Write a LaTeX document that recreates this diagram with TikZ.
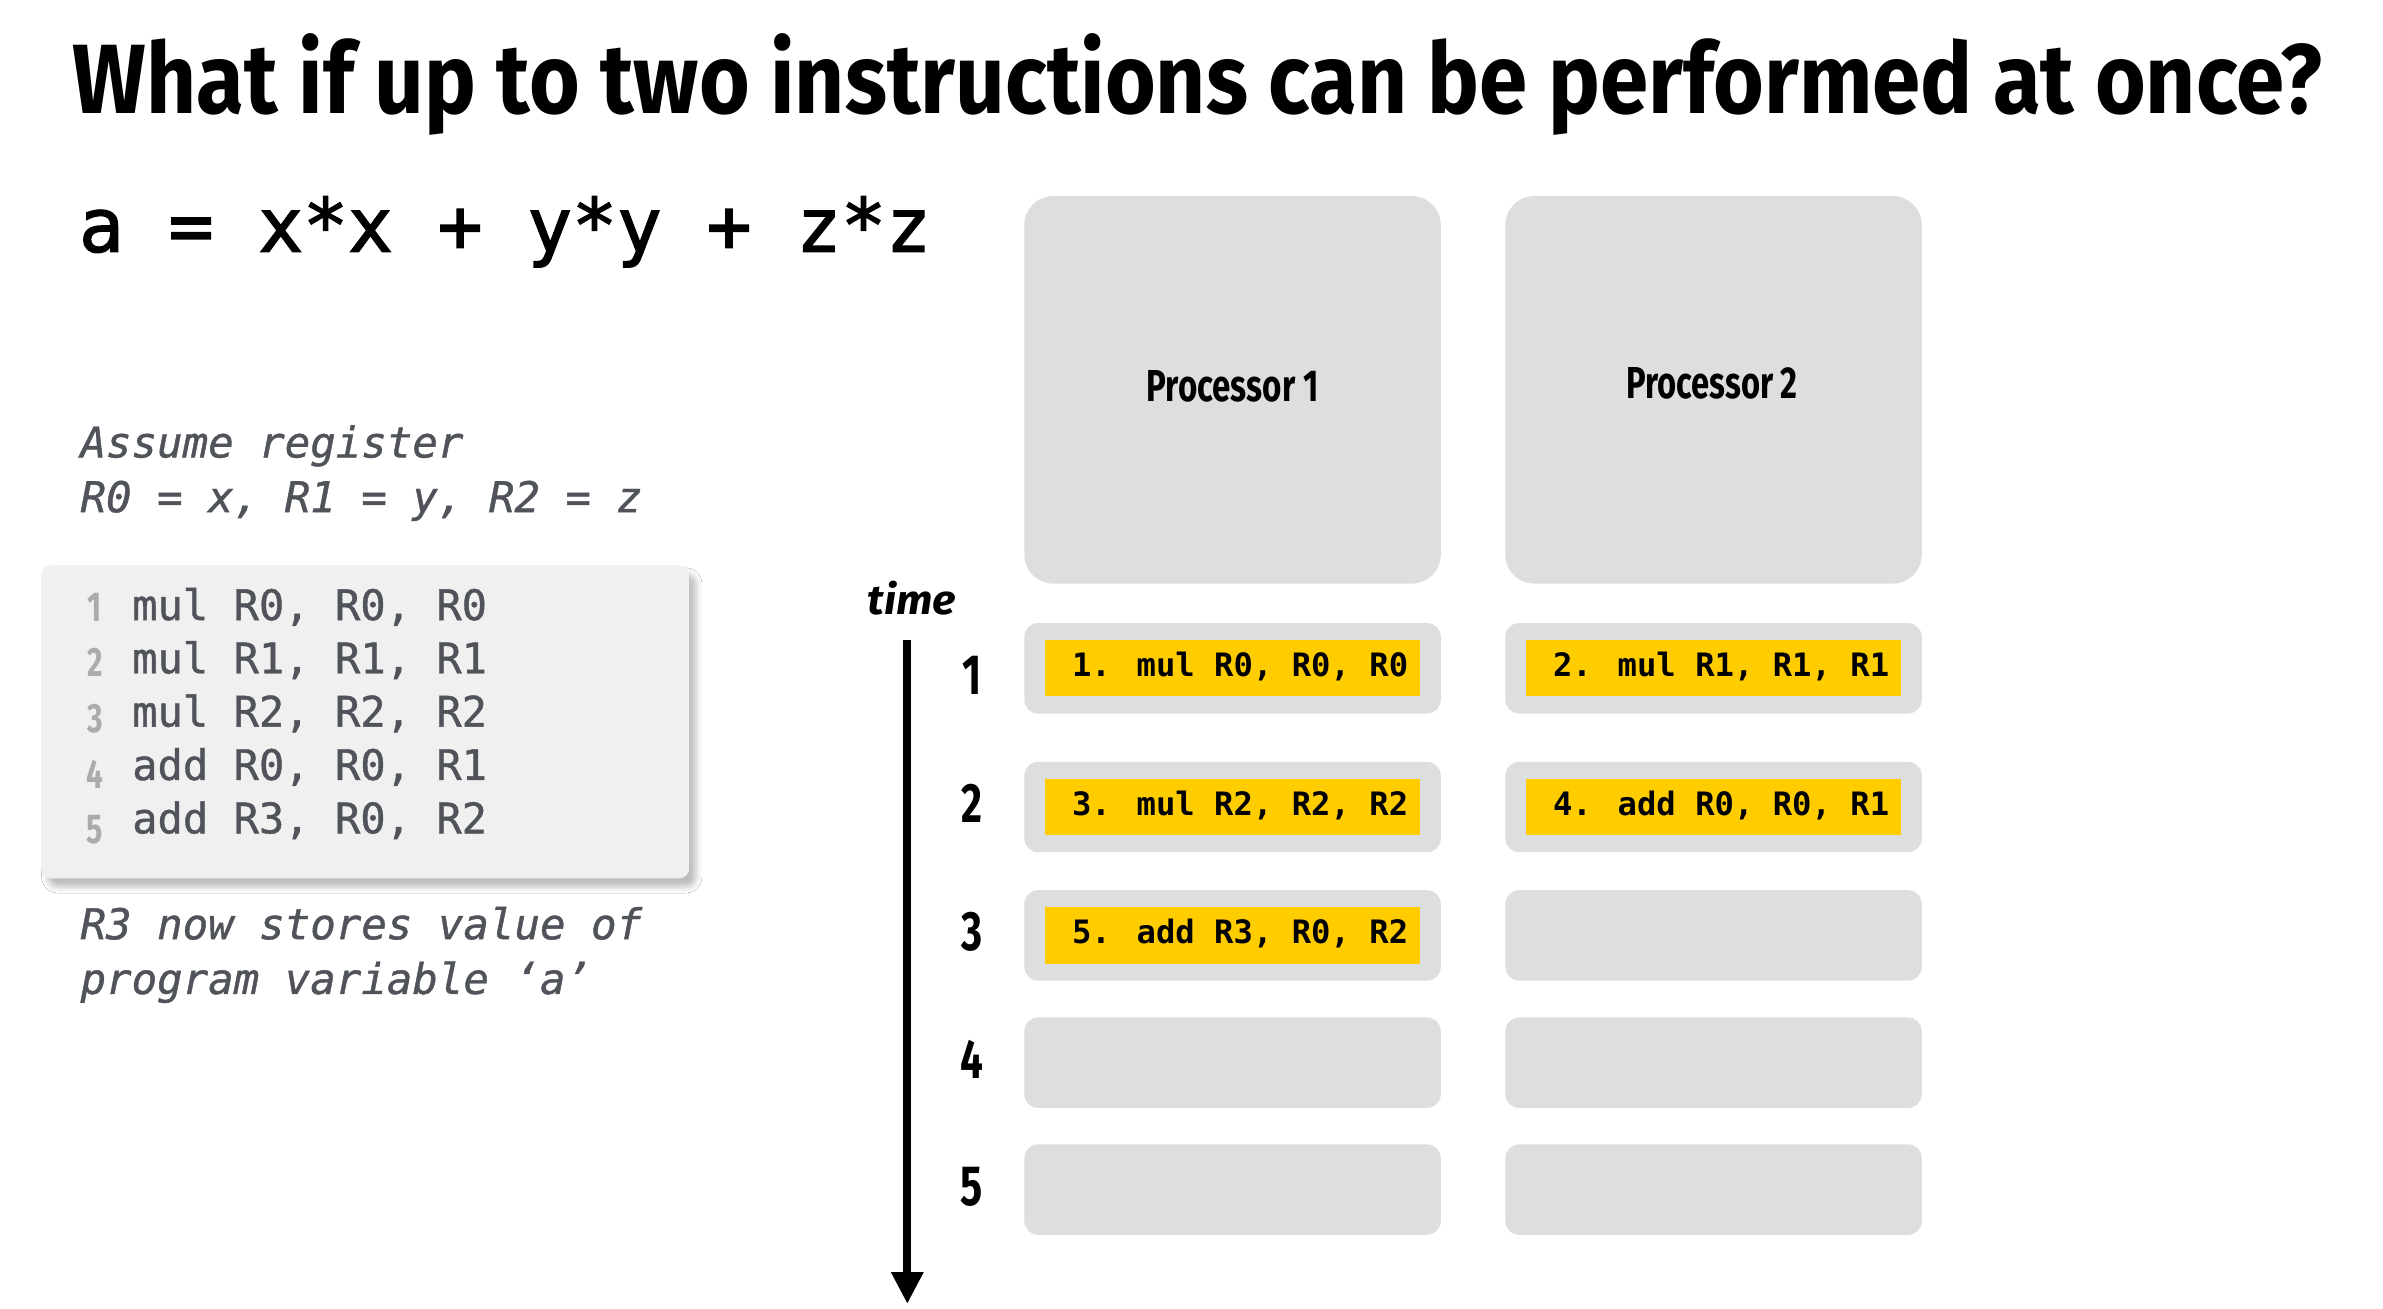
\documentclass[tikz,border=0pt]{standalone}
\usepackage{fontspec}
\usepackage{graphicx}
\usetikzlibrary{arrows.meta,shadows.blur}
\newfontfamily\cond[FakeStretch=0.73]{Fira Sans}
\newfontfamily\mono{DejaVu Sans Mono}
\newfontfamily\monoeq[FakeBold=2]{DejaVu Sans Mono}
\newfontfamily\monocode[FakeBold=1]{DejaVu Sans Mono}
\definecolor{boxgray}{HTML}{DDDEE0}
\definecolor{codebg}{HTML}{F0F0F0}
\definecolor{codefg}{HTML}{50545A}
\definecolor{lnum}{HTML}{A9ABAD}
\definecolor{instyellow}{HTML}{FFCC00}
\begin{document}
\begin{tikzpicture}[x=0.5pt,y=-0.5pt,
  txt/.style={inner sep=0pt, outer sep=0pt},
  procbox/.style={fill=boxgray, rounded corners=9.5pt, minimum width=137pt, minimum height=127.5pt, inner sep=0pt},
  rowbox/.style={fill=boxgray, rounded corners=4.5pt, minimum width=137pt, minimum height=29.75pt, inner sep=0pt},
  instbox/.style={fill=instyellow, minimum width=123.5pt, minimum height=18.5pt, inner sep=0pt},
  insttext/.style={txt, anchor=base, font=\mono\bfseries\fontsize{10.6}{12}\selectfont},
  codeline/.style={txt, anchor=base west, text=codefg, font=\monocode\fontsize{13.85}{16}\selectfont},
  note/.style={txt, anchor=base west, text=codefg, font=\monocode\itshape\fontsize{13.95}{16}\selectfont},
  linenum/.style={txt, anchor=base, text=lnum},
  stepnum/.style={txt, anchor=base},
  timearrow/.style={line width=2.75pt, -{Triangle[width=10pt,length=10.5pt]}}
]
\useasboundingbox (0,0) rectangle (1568,861);
\fill[white] (0,0) rectangle (1568,861);

% title
\node[txt, anchor=base west] (title) at (48,74.6)
  {\resizebox{740pt}{26.3pt}{\cond\bfseries What if up to two instructions can be performed at once?}};

% equation
\node[txt, anchor=base west, font=\monoeq\fontsize{24.5}{28}\selectfont] (eq) at (52,165.6) {a = x*x + y*y + z*z};

% notes
\node[note] (as1) at (53,301) {Assume register};
\node[note] (as2) at (53,337) {R0 = x, R1 = y, R2 = z};
\node[note] (r3a) at (53,618) {R3 now stores value of};
\node[note] (r3b) at (53,654) {program variable ‘a’};

% code box
\node[fill=codebg, rounded corners=3.3pt, minimum width=213.25pt, minimum height=103pt, inner sep=0pt,
  blur shadow={shadow xshift=2.2pt, shadow yshift=-2.8pt, shadow blur radius=2pt, shadow opacity=26}]
  (codebox) at (240.25,475) {};
\foreach \i/\yb/\yn/\t in {1/408/409/{mul R0, R0, R0},2/443/445.2/{mul R1, R1, R1},3/478.1/482.1/{mul R2, R2, R2},4/513.2/518.7/{add R0, R0, R1},5/548.3/554.8/{add R3, R0, R2}}{
  \node[linenum] (l\i) at (62.5,\yn) {\resizebox{!}{9.3pt}{\cond\bfseries \i}};
  \node[codeline] (c\i) at (87,\yb) {\t};
}

% processors
\node[procbox] (p1) at (811,256.5) {};
\node[procbox] (p2) at (1127.5,256.5) {};
\node[txt, anchor=base west] (p1l) at (754.5,264.3) {\resizebox{56.5pt}{10.2pt}{\cond\bfseries Processor 1}};
\node[txt, anchor=base west] (p2l) at (1070,262) {\resizebox{56.5pt}{10.2pt}{\cond\bfseries Processor 2}};

% rows
\foreach \r/\y in {1/439.75,2/531,3/615.5,4/699.25,5/782.75}{
  \node[rowbox] (ra\r) at (811,\y) {};
  \node[rowbox] (rb\r) at (1127.5,\y) {};
}

% instructions
\node[instbox] (ya1) at (ra1.center) {};
\node[insttext] (ta1) at ([xshift=2.5pt,yshift=-2.7pt]ya1.center) {1. mul R0, R0, R0};
\node[instbox] (yb1) at (rb1.center) {};
\node[insttext] (tb1) at ([xshift=2.5pt,yshift=-2.7pt]yb1.center) {2. mul R1, R1, R1};
\node[instbox] (ya2) at (ra2.center) {};
\node[insttext] (ta2) at ([xshift=2.5pt,yshift=-2.7pt]ya2.center) {3. mul R2, R2, R2};
\node[instbox] (yb2) at (rb2.center) {};
\node[insttext] (tb2) at ([xshift=2.5pt,yshift=-2.7pt]yb2.center) {4. add R0, R0, R1};
\node[instbox] (ya3) at (ra3.center) {};
\node[insttext] (ta3) at ([xshift=2.5pt,yshift=-2.7pt]ya3.center) {5. add R3, R0, R2};

% time axis
\node[txt, anchor=base west] (time) at (571,404.6) {\resizebox{29pt}{11pt}{\cond\bfseries\itshape time}};
\coordinate (tstart) at (597,421);
\coordinate (tend) at (597,858);
\draw[timearrow] (tstart) -- (tend);
\foreach \n/\y in {1/457,2/541.5,3/625.5,4/709.5,5/793}{
  \node[stepnum] (n\n) at (639.5,\y) {\resizebox{!}{12.6pt}{\cond\bfseries \n}};
}
\end{tikzpicture}
\end{document}
